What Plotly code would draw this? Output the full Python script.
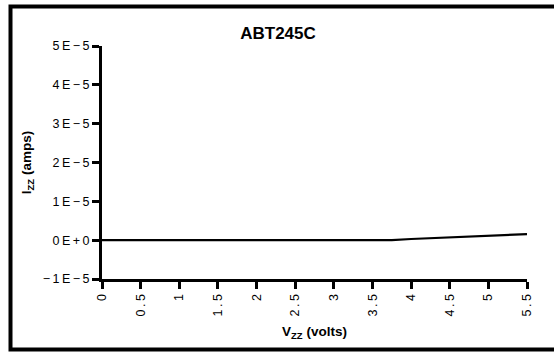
import plotly.graph_objects as go

# Data
vzz_volts = [0.0, 1.0, 2.0, 3.0, 3.75, 4.0, 4.5, 5.0, 5.5]
izz_amps = [0.0, 0.0, 0.0, 0.0, 0.0, 0.3e-6, 0.75e-6, 1.15e-6, 1.55e-6]

x_tick_vals = [0, 0.5, 1, 1.5, 2, 2.5, 3, 3.5, 4, 4.5, 5, 5.5]
x_tick_text = ["0", "0.5", "1", "1.5", "2", "2.5", "3", "3.5", "4", "4.5", "5", "5.5"]
y_tick_vals = [-1e-5, 0, 1e-5, 2e-5, 3e-5, 4e-5, 5e-5]
y_tick_text = ["−1E−5", "0E+0", "1E−5", "2E−5", "3E−5", "4E−5", "5E−5"]

TS = "\u2009"
def spaced(s):
    return TS.join(list(s))

fig = go.Figure()
fig.add_trace(go.Scatter(
    x=vzz_volts, y=izz_amps, mode="lines",
    line=dict(color="black", width=2.2),
    showlegend=False, hoverinfo="skip",
))

tick_font = dict(family="Liberation Sans, Arial, sans-serif", size=12.5, color="black")
title_font = dict(family="Liberation Sans, Arial, sans-serif", size=13.5, color="black")

fig.update_layout(
    width=554, height=352,
    margin=dict(l=102, r=27, t=46, b=73),
    paper_bgcolor="white", plot_bgcolor="white",
    title=dict(text="<b>ABT245C</b>", x=278 / 554, xanchor="center",
               y=1 - 33 / 352, yanchor="middle",
               font=dict(family="Liberation Sans, Arial, sans-serif", size=17, color="black")),
    xaxis=dict(
        range=[0, 5.5], tickmode="array", tickvals=x_tick_vals,
        ticktext=[spaced(t) for t in x_tick_text], tickangle=-90,
        showgrid=False, zeroline=False, showline=True, linecolor="black", linewidth=3,
        ticks="outside", ticklen=7, tickwidth=3, tickcolor="black",
        tickfont=tick_font,
        title=dict(text="<b>V<sub>ZZ</sub> (volts)</b>", font=title_font, standoff=12),
    ),
    yaxis=dict(
        range=[-1e-5, 5e-5], tickmode="array", tickvals=y_tick_vals,
        ticktext=[spaced(t) for t in y_tick_text],
        showgrid=False, zeroline=False, showline=True, linecolor="black", linewidth=3,
        ticks="outside", ticklen=7, tickwidth=3, tickcolor="black",
        tickfont=tick_font,
        title=dict(text="<b>I<sub>ZZ</sub> (amps)</b>", font=title_font, standoff=8),
    ),
)

# Outer frame around the figure
fig.add_shape(type="rect", xref="paper", yref="paper",
              x0=(10.5 - 102) / 425, x1=(558 - 102) / 425,
              y0=(279 - 349.5) / 233, y1=(279 - 6.5) / 233,
              line=dict(color="black", width=4), fillcolor="rgba(0,0,0,0)", layer="below")

fig.write_html("out.html")
